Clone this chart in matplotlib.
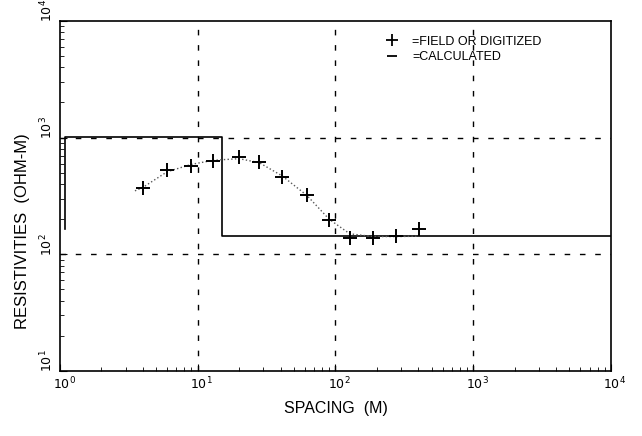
import numpy as np
import matplotlib.pyplot as plt
import matplotlib.transforms as mtransforms
from matplotlib.lines import Line2D

# field sounding (electrode spacing in m, apparent resistivity in ohm-m)
spacing = [4, 6, 9, 13, 20, 28, 41, 62, 90, 127, 187, 275, 404]
rho_field = [370, 527, 569, 630, 682, 614, 460, 322, 197, 138, 138, 144, 165]

# calculated apparent resistivity curve
spacing_calc = [3.5, 4, 6, 9, 13, 20, 28, 41, 62, 90, 127, 187, 275, 404]
rho_calc = [350, 375, 510, 590, 640, 660, 610, 470, 320, 200, 150, 142, 142, 143]

# layered model: depth breaks and layer resistivities
model_depth = [1.09, 1.09, 15.0, 15.0, 10000]
model_rho = [165, 1010, 1010, 144, 144]

fig = plt.figure(figsize=(6.42, 4.36), dpi=100)
ax = fig.add_axes([0.0935, 0.149, 0.858, 0.803])

ax.set_xscale("log")
ax.set_yscale("log")
ax.set_xlim(1, 1e4)
ax.set_ylim(10, 1e4)

# dashed grid on the decades
for xv in [10, 100, 1000]:
    ax.axvline(xv, color="black", lw=1.0, dashes=(4, 7))
for yv in [100, 1000]:
    ax.axhline(yv, color="black", lw=1.0, dashes=(4, 7))

ax.plot(model_depth, model_rho, color="black", lw=1.2)
ax.plot(spacing_calc, rho_calc, color="0.35", lw=1.0, ls=":")
ax.plot(spacing, rho_field, ls="none", marker="+", color="black",
        markersize=10, markeredgewidth=1.4)

for side in ax.spines.values():
    side.set_linewidth(1.2)

ax.tick_params(which="both", direction="in", labelsize=9)
ax.tick_params(which="major", length=5)
ax.tick_params(which="minor", length=3)
ax.tick_params(axis="y", labelrotation=90)

# nudge tick labels a little so the corner labels stay apart
fig.canvas.draw()
xshift = mtransforms.ScaledTranslation(4 / 100, 0, fig.dpi_scale_trans)
yshift = mtransforms.ScaledTranslation(0, 10 / 100, fig.dpi_scale_trans)
for lab in ax.get_xticklabels():
    lab.set_transform(lab.get_transform() + xshift)
for lab in ax.get_yticklabels():
    lab.set_va("center")
    lab.set_transform(lab.get_transform() + yshift)

ax.set_xlabel("SPACING  (M)", fontsize=11.5, family="Liberation Sans", labelpad=6)
ax.set_ylabel("RESISTIVITIES  (OHM-M)", fontsize=12, family="Liberation Sans")
ax.yaxis.set_label_coords(-0.055, 0.40)

handles = [
    Line2D([], [], ls="none", marker="+", color="black", markersize=9,
           markeredgewidth=1.3),
    Line2D([], [], ls="none", marker="_", color="black", markersize=7,
           markeredgewidth=1.3),
]
ax.legend(handles, ["=FIELD OR DIGITIZED", "=CALCULATED"],
          loc="upper left", bbox_to_anchor=(0.56, 0.99), frameon=False,
          prop={"family": "Liberation Sans", "size": 9},
          handletextpad=0.6, labelspacing=0.3)

fig.savefig("out.png", dpi=100)
